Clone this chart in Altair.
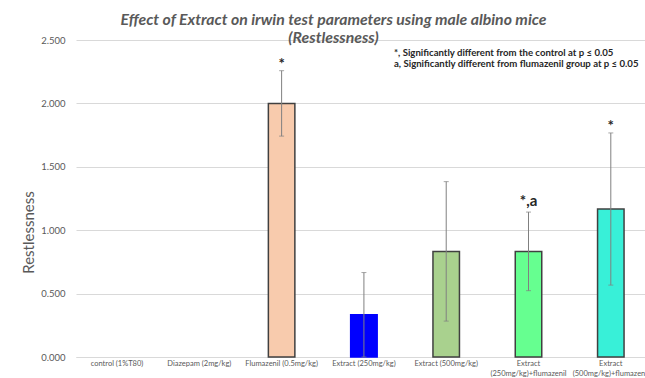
import altair as alt
import pandas as pd

# Treatment groups and their Restlessness scores (mean ± SD)
groups = [
    "control (1%T80)",
    "Diazepam (2mg/kg)",
    "Flumazenil (0.5mg/kg)",
    "Extract (250mg/kg)",
    "Extract (500mg/kg)",
    "Extract (250mg/kg)+flumazenil",
    "Extract (500mg/kg)+flumazenil",
]
means = [0.0, 0.0, 2.0, 0.333, 0.833, 0.833, 1.167]
sds = [0.0, 0.0, 0.258, 0.333, 0.55, 0.31, 0.60]
signif = ["", "", "*", "", "", "*,a", "*"]

# One fill colour per group
fills = ["#F8CBAD", "#F8CBAD", "#F8CBAD", "#0000FF", "#A9D18E", "#66FF90", "#38F0D8"]

df = pd.DataFrame({"group": groups, "mean": means, "sd": sds, "sig": signif})
df["lo"] = (df["mean"] - df["sd"]).clip(lower=0)
df["hi"] = df["mean"] + df["sd"]

FONT = "Lato"
GRAY = "#595959"

x_scale = alt.Scale(domain=groups, paddingInner=0.678, paddingOuter=0.296, align=0.57)
y_scale = alt.Scale(domain=[0, 2.5], nice=False)

x_enc = alt.X(
    "group:N",
    title=None,
    scale=x_scale,
    axis=alt.Axis(
        labelAngle=0,
        labelFontSize=7.5,
        labelColor=GRAY,
        labelFont=FONT,
        labelPadding=2,
        labelLineHeight=10,
        labelExpr="indexof(datum.label, '+') > 0 ? ['Extract', substring(datum.label, 8)] : datum.label",
        ticks=False,
        domainColor="#d9d9d9",
        labelOverlap=False,
    ),
)
x_plain = alt.X("group:N", scale=x_scale)

bars = alt.Chart(df).transform_filter("datum.mean > 0").mark_bar(strokeWidth=1.5).encode(
    x=x_enc,
    y=alt.Y(
        "mean:Q",
        scale=y_scale,
        title="Restlessness",
        axis=alt.Axis(
            values=[0, 0.5, 1.0, 1.5, 2.0, 2.5],
            format=".3f",
            labelFontSize=9.5,
            labelColor=GRAY,
            labelFont=FONT,
            labelPadding=11,
            ticks=False,
            domain=False,
            gridColor="#d9d9d9",
            gridWidth=1,
            titleFont=FONT,
            titleFontSize=15,
            titleFontWeight="normal",
            titleColor=GRAY,
            titleAngle=-90,
            titleX=-48,
            titleY=192,
            titleAlign="center",
            titleBaseline="middle",
        ),
    ),
    fill=alt.Fill("group:N", scale=alt.Scale(domain=groups, range=fills), legend=None),
    stroke=alt.condition(
        "datum.group == 'Extract (250mg/kg)'", alt.value("#0000FF"), alt.value("#404040")
    ),
)

err_df = alt.Chart(df).transform_filter("datum.sd > 0")

err_line = err_df.mark_rule(color="#808080", strokeWidth=1).encode(
    x=x_plain,
    y=alt.Y("lo:Q", scale=y_scale),
    y2="hi:Q",
)
cap_hi = err_df.mark_tick(color="#808080", size=5, thickness=1, orient="horizontal").encode(
    x=x_plain,
    y=alt.Y("hi:Q", scale=y_scale),
)
cap_lo = err_df.mark_tick(color="#808080", size=5, thickness=1, orient="horizontal").encode(
    x=x_plain,
    y=alt.Y("lo:Q", scale=y_scale),
)

# Significance markers above the error bars
sig_style = dict(font=FONT, fontSize=15, fontWeight="bold", color="#262626", baseline="alphabetic")
sig_star = alt.Chart(df).transform_filter("datum.sig == '*'").mark_text(dy=-2, **sig_style).encode(
    x=x_plain,
    y=alt.Y("hi:Q", scale=y_scale),
    text="sig:N",
)
sig_star_a = alt.Chart(df).transform_filter("datum.sig == '*,a'").mark_text(dy=-6, **sig_style).encode(
    x=x_plain,
    y=alt.Y("hi:Q", scale=y_scale),
    text="sig:N",
)

notes = [
    "*, Significantly different from the control at p \u2264 0.05",
    "a,  Significantly different from flumazenil group at p \u2264 0.05",
]
note_df = pd.DataFrame({"note": notes, "row": [0, 1]})
note_text = alt.Chart(note_df).mark_text(
    font=FONT, fontSize=9.6, fontWeight="bold", color="#262626",
    align="left", baseline="middle",
).encode(
    x=alt.value(318),
    y=alt.value(0),
    text="note:N",
    yOffset=alt.YOffset("row:Q", scale=alt.Scale(domain=[0, 1], range=[12.7, 24])),
)

chart = alt.layer(bars, err_line, cap_hi, cap_lo, sig_star, sig_star_a, note_text).properties(
    width=569,
    height=317,
    autosize=alt.AutoSizeParams(type="none"),
    padding={"left": 76, "top": 40, "right": 0, "bottom": 21},
    title=alt.TitleParams(
        text=[
            "Effect of Extract on irwin test parameters using male albino mice",
            "(Restlessness)",
        ],
        anchor="middle",
        dx=-27,
        offset=-12,
        font=FONT,
        fontSize=15.8,
        fontStyle="italic",
        fontWeight="bold",
        color=GRAY,
        lineHeight=18,
    ),
).configure_view(stroke=None)

chart.save("out.html", embed_options={"renderer": "svg", "actions": False})
